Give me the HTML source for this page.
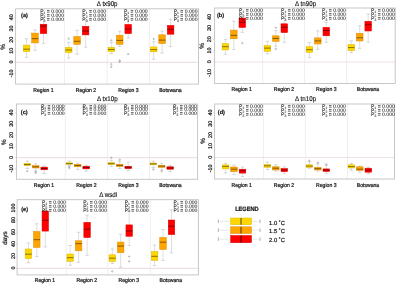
<!DOCTYPE html><html><head><meta charset="utf-8"><style>
html,body{margin:0;padding:0;background:#fff;}
body{width:396px;height:284px;overflow:hidden;}
svg{display:block;}
text{font-family:"Liberation Sans", sans-serif;fill:#1a1a1a;stroke:#1a1a1a;stroke-width:0.22px;text-rendering:geometricPrecision;}
</style></head><body>
<svg width="396" height="284" viewBox="0 0 396 284">
<rect x="0" y="0" width="396" height="284" fill="#fff"/>
<line x1="64.4" y1="8.8" x2="64.4" y2="84.1" stroke="#efefef" stroke-width="1"/>
<line x1="107.2" y1="8.8" x2="107.2" y2="84.1" stroke="#efefef" stroke-width="1"/>
<line x1="149.5" y1="8.8" x2="149.5" y2="84.1" stroke="#efefef" stroke-width="1"/>
<line x1="15.6" y1="62.4" x2="198.5" y2="62.4" stroke="#efe1df" stroke-width="1.2"/>
<rect x="15.6" y="8.8" width="182.9" height="75.3" fill="none" stroke="#c2c2c2" stroke-width="0.9"/>
<line x1="14.6" y1="73.33" x2="15.6" y2="73.33" stroke="#c2c2c2" stroke-width="0.8"/>
<line x1="14.6" y1="62.1" x2="15.6" y2="62.1" stroke="#c2c2c2" stroke-width="0.8"/>
<line x1="14.6" y1="50.87" x2="15.6" y2="50.87" stroke="#c2c2c2" stroke-width="0.8"/>
<line x1="14.6" y1="39.64" x2="15.6" y2="39.64" stroke="#c2c2c2" stroke-width="0.8"/>
<line x1="14.6" y1="28.41" x2="15.6" y2="28.41" stroke="#c2c2c2" stroke-width="0.8"/>
<line x1="14.6" y1="17.18" x2="15.6" y2="17.18" stroke="#c2c2c2" stroke-width="0.8"/>
<line x1="26.6" y1="38.8" x2="26.6" y2="45.1" stroke="#bdbdbd" stroke-width="0.5"/>
<line x1="26.6" y1="51.6" x2="26.6" y2="57.3" stroke="#bdbdbd" stroke-width="0.5"/>
<line x1="24.9" y1="38.8" x2="28.3" y2="38.8" stroke="#bdbdbd" stroke-width="0.6"/>
<line x1="24.9" y1="57.3" x2="28.3" y2="57.3" stroke="#bdbdbd" stroke-width="0.6"/>
<rect x="23.3" y="45.1" width="6.6" height="6.5" fill="#ffd700" stroke="#d9b600" stroke-width="0.5"/>
<line x1="23.3" y1="49.2" x2="29.9" y2="49.2" stroke="#000" stroke-opacity="0.6" stroke-width="0.8"/>
<line x1="35" y1="29.9" x2="35" y2="33.1" stroke="#bdbdbd" stroke-width="0.5"/>
<line x1="35" y1="42.9" x2="35" y2="50.2" stroke="#bdbdbd" stroke-width="0.5"/>
<line x1="33.3" y1="29.9" x2="36.7" y2="29.9" stroke="#bdbdbd" stroke-width="0.6"/>
<line x1="33.3" y1="50.2" x2="36.7" y2="50.2" stroke="#bdbdbd" stroke-width="0.6"/>
<rect x="31.7" y="33.1" width="6.6" height="9.8" fill="#ffa500" stroke="#d98c00" stroke-width="0.5"/>
<line x1="31.7" y1="38.7" x2="38.3" y2="38.7" stroke="#000" stroke-opacity="0.6" stroke-width="0.8"/>
<line x1="43.5" y1="17.5" x2="43.5" y2="24.2" stroke="#bdbdbd" stroke-width="0.5"/>
<line x1="43.5" y1="33.6" x2="43.5" y2="43.4" stroke="#bdbdbd" stroke-width="0.5"/>
<line x1="41.8" y1="17.5" x2="45.2" y2="17.5" stroke="#bdbdbd" stroke-width="0.6"/>
<line x1="41.8" y1="43.4" x2="45.2" y2="43.4" stroke="#bdbdbd" stroke-width="0.6"/>
<rect x="40.2" y="24.2" width="6.6" height="9.4" fill="#ff0000" stroke="#d90000" stroke-width="0.5"/>
<line x1="40.2" y1="26.2" x2="46.8" y2="26.2" stroke="#000" stroke-opacity="0.6" stroke-width="0.8"/>
<line x1="68.7" y1="42.5" x2="68.7" y2="47.4" stroke="#bdbdbd" stroke-width="0.5"/>
<line x1="68.7" y1="52.6" x2="68.7" y2="58" stroke="#bdbdbd" stroke-width="0.5"/>
<line x1="67" y1="42.5" x2="70.4" y2="42.5" stroke="#bdbdbd" stroke-width="0.6"/>
<line x1="67" y1="58" x2="70.4" y2="58" stroke="#bdbdbd" stroke-width="0.6"/>
<circle cx="68.7" cy="38.7" r="0.7" fill="none" stroke="#808080" stroke-width="0.5"/>
<rect x="65.4" y="47.4" width="6.6" height="5.2" fill="#ffd700" stroke="#d9b600" stroke-width="0.5"/>
<line x1="65.4" y1="50" x2="72" y2="50" stroke="#000" stroke-opacity="0.6" stroke-width="0.8"/>
<line x1="77.1" y1="30.3" x2="77.1" y2="36.5" stroke="#bdbdbd" stroke-width="0.5"/>
<line x1="77.1" y1="44.3" x2="77.1" y2="54.2" stroke="#bdbdbd" stroke-width="0.5"/>
<line x1="75.4" y1="30.3" x2="78.8" y2="30.3" stroke="#bdbdbd" stroke-width="0.6"/>
<line x1="75.4" y1="54.2" x2="78.8" y2="54.2" stroke="#bdbdbd" stroke-width="0.6"/>
<rect x="73.8" y="36.5" width="6.6" height="7.8" fill="#ffa500" stroke="#d98c00" stroke-width="0.5"/>
<line x1="73.8" y1="41.3" x2="80.4" y2="41.3" stroke="#000" stroke-opacity="0.6" stroke-width="0.8"/>
<line x1="85.6" y1="20" x2="85.6" y2="26.3" stroke="#bdbdbd" stroke-width="0.5"/>
<line x1="85.6" y1="34.9" x2="85.6" y2="47.2" stroke="#bdbdbd" stroke-width="0.5"/>
<line x1="83.9" y1="20" x2="87.3" y2="20" stroke="#bdbdbd" stroke-width="0.6"/>
<line x1="83.9" y1="47.2" x2="87.3" y2="47.2" stroke="#bdbdbd" stroke-width="0.6"/>
<rect x="82.3" y="26.3" width="6.6" height="8.6" fill="#ff0000" stroke="#d90000" stroke-width="0.5"/>
<line x1="82.3" y1="31" x2="88.9" y2="31" stroke="#000" stroke-opacity="0.6" stroke-width="0.8"/>
<line x1="111.3" y1="42.6" x2="111.3" y2="47.3" stroke="#bdbdbd" stroke-width="0.5"/>
<line x1="111.3" y1="51.7" x2="111.3" y2="53.7" stroke="#bdbdbd" stroke-width="0.5"/>
<line x1="109.6" y1="42.6" x2="113" y2="42.6" stroke="#bdbdbd" stroke-width="0.6"/>
<line x1="109.6" y1="53.7" x2="113" y2="53.7" stroke="#bdbdbd" stroke-width="0.6"/>
<circle cx="111.3" cy="40.4" r="0.7" fill="none" stroke="#808080" stroke-width="0.5"/>
<circle cx="111.3" cy="64.3" r="0.7" fill="none" stroke="#808080" stroke-width="0.5"/>
<circle cx="111.3" cy="67" r="0.7" fill="none" stroke="#808080" stroke-width="0.5"/>
<rect x="108" y="47.3" width="6.6" height="4.4" fill="#ffd700" stroke="#d9b600" stroke-width="0.5"/>
<line x1="108" y1="49.5" x2="114.6" y2="49.5" stroke="#000" stroke-opacity="0.6" stroke-width="0.8"/>
<line x1="119.7" y1="31.2" x2="119.7" y2="35.2" stroke="#bdbdbd" stroke-width="0.5"/>
<line x1="119.7" y1="44.3" x2="119.7" y2="46.3" stroke="#bdbdbd" stroke-width="0.5"/>
<line x1="118" y1="31.2" x2="121.4" y2="31.2" stroke="#bdbdbd" stroke-width="0.6"/>
<line x1="118" y1="46.3" x2="121.4" y2="46.3" stroke="#bdbdbd" stroke-width="0.6"/>
<circle cx="119.7" cy="60.5" r="0.7" fill="none" stroke="#808080" stroke-width="0.5"/>
<circle cx="119.7" cy="61.8" r="0.7" fill="none" stroke="#808080" stroke-width="0.5"/>
<rect x="116.4" y="35.2" width="6.6" height="9.1" fill="#ffa500" stroke="#d98c00" stroke-width="0.5"/>
<line x1="116.4" y1="40.4" x2="123" y2="40.4" stroke="#000" stroke-opacity="0.6" stroke-width="0.8"/>
<line x1="128.2" y1="19" x2="128.2" y2="24.4" stroke="#bdbdbd" stroke-width="0.5"/>
<line x1="128.2" y1="33.7" x2="128.2" y2="38.1" stroke="#bdbdbd" stroke-width="0.5"/>
<line x1="126.5" y1="19" x2="129.9" y2="19" stroke="#bdbdbd" stroke-width="0.6"/>
<line x1="126.5" y1="38.1" x2="129.9" y2="38.1" stroke="#bdbdbd" stroke-width="0.6"/>
<circle cx="128.2" cy="54.1" r="0.7" fill="none" stroke="#808080" stroke-width="0.5"/>
<rect x="124.9" y="24.4" width="6.6" height="9.3" fill="#ff0000" stroke="#d90000" stroke-width="0.5"/>
<line x1="124.9" y1="29" x2="131.5" y2="29" stroke="#000" stroke-opacity="0.6" stroke-width="0.8"/>
<line x1="153.7" y1="41.8" x2="153.7" y2="46.9" stroke="#bdbdbd" stroke-width="0.5"/>
<line x1="153.7" y1="51.9" x2="153.7" y2="59.2" stroke="#bdbdbd" stroke-width="0.5"/>
<line x1="152" y1="41.8" x2="155.4" y2="41.8" stroke="#bdbdbd" stroke-width="0.6"/>
<line x1="152" y1="59.2" x2="155.4" y2="59.2" stroke="#bdbdbd" stroke-width="0.6"/>
<circle cx="153.7" cy="39" r="0.7" fill="none" stroke="#808080" stroke-width="0.5"/>
<rect x="150.4" y="46.9" width="6.6" height="5" fill="#ffd700" stroke="#d9b600" stroke-width="0.5"/>
<line x1="150.4" y1="49.6" x2="157" y2="49.6" stroke="#000" stroke-opacity="0.6" stroke-width="0.8"/>
<line x1="162.1" y1="31.1" x2="162.1" y2="34.8" stroke="#bdbdbd" stroke-width="0.5"/>
<line x1="162.1" y1="43.6" x2="162.1" y2="53.1" stroke="#bdbdbd" stroke-width="0.5"/>
<line x1="160.4" y1="31.1" x2="163.8" y2="31.1" stroke="#bdbdbd" stroke-width="0.6"/>
<line x1="160.4" y1="53.1" x2="163.8" y2="53.1" stroke="#bdbdbd" stroke-width="0.6"/>
<rect x="158.8" y="34.8" width="6.6" height="8.8" fill="#ffa500" stroke="#d98c00" stroke-width="0.5"/>
<line x1="158.8" y1="40.1" x2="165.4" y2="40.1" stroke="#000" stroke-opacity="0.6" stroke-width="0.8"/>
<line x1="170.6" y1="19.3" x2="170.6" y2="25.4" stroke="#bdbdbd" stroke-width="0.5"/>
<line x1="170.6" y1="34.2" x2="170.6" y2="46.6" stroke="#bdbdbd" stroke-width="0.5"/>
<line x1="168.9" y1="19.3" x2="172.3" y2="19.3" stroke="#bdbdbd" stroke-width="0.6"/>
<line x1="168.9" y1="46.6" x2="172.3" y2="46.6" stroke="#bdbdbd" stroke-width="0.6"/>
<rect x="167.3" y="25.4" width="6.6" height="8.8" fill="#ff0000" stroke="#d90000" stroke-width="0.5"/>
<line x1="167.3" y1="29.3" x2="173.9" y2="29.3" stroke="#000" stroke-opacity="0.6" stroke-width="0.8"/>
<line x1="262.6" y1="8" x2="262.6" y2="83.5" stroke="#efefef" stroke-width="1"/>
<line x1="304.6" y1="8" x2="304.6" y2="83.5" stroke="#efefef" stroke-width="1"/>
<line x1="346.6" y1="8" x2="346.6" y2="83.5" stroke="#efefef" stroke-width="1"/>
<line x1="214.6" y1="62" x2="395.2" y2="62" stroke="#efe1df" stroke-width="1.2"/>
<rect x="214.6" y="8" width="180.6" height="75.5" fill="none" stroke="#c2c2c2" stroke-width="0.9"/>
<line x1="213.6" y1="72.9" x2="214.6" y2="72.9" stroke="#c2c2c2" stroke-width="0.8"/>
<line x1="213.6" y1="61.7" x2="214.6" y2="61.7" stroke="#c2c2c2" stroke-width="0.8"/>
<line x1="213.6" y1="50.5" x2="214.6" y2="50.5" stroke="#c2c2c2" stroke-width="0.8"/>
<line x1="213.6" y1="39.3" x2="214.6" y2="39.3" stroke="#c2c2c2" stroke-width="0.8"/>
<line x1="213.6" y1="28.1" x2="214.6" y2="28.1" stroke="#c2c2c2" stroke-width="0.8"/>
<line x1="213.6" y1="16.9" x2="214.6" y2="16.9" stroke="#c2c2c2" stroke-width="0.8"/>
<line x1="225.4" y1="39.3" x2="225.4" y2="43.6" stroke="#bdbdbd" stroke-width="0.5"/>
<line x1="225.4" y1="49.9" x2="225.4" y2="54.3" stroke="#bdbdbd" stroke-width="0.5"/>
<line x1="223.7" y1="39.3" x2="227.1" y2="39.3" stroke="#bdbdbd" stroke-width="0.6"/>
<line x1="223.7" y1="54.3" x2="227.1" y2="54.3" stroke="#bdbdbd" stroke-width="0.6"/>
<rect x="222.1" y="43.6" width="6.6" height="6.3" fill="#ffd700" stroke="#d9b600" stroke-width="0.5"/>
<line x1="222.1" y1="46.7" x2="228.7" y2="46.7" stroke="#000" stroke-opacity="0.6" stroke-width="0.8"/>
<line x1="233.8" y1="21.2" x2="233.8" y2="30.1" stroke="#bdbdbd" stroke-width="0.5"/>
<line x1="233.8" y1="38.8" x2="233.8" y2="49.4" stroke="#bdbdbd" stroke-width="0.5"/>
<line x1="232.1" y1="21.2" x2="235.5" y2="21.2" stroke="#bdbdbd" stroke-width="0.6"/>
<line x1="232.1" y1="49.4" x2="235.5" y2="49.4" stroke="#bdbdbd" stroke-width="0.6"/>
<rect x="230.5" y="30.1" width="6.6" height="8.7" fill="#ffa500" stroke="#d98c00" stroke-width="0.5"/>
<line x1="230.5" y1="35.3" x2="237.1" y2="35.3" stroke="#000" stroke-opacity="0.6" stroke-width="0.8"/>
<line x1="242.3" y1="15" x2="242.3" y2="18" stroke="#bdbdbd" stroke-width="0.5"/>
<line x1="242.3" y1="27.5" x2="242.3" y2="32.3" stroke="#bdbdbd" stroke-width="0.5"/>
<line x1="240.6" y1="15" x2="244" y2="15" stroke="#bdbdbd" stroke-width="0.6"/>
<line x1="240.6" y1="32.3" x2="244" y2="32.3" stroke="#bdbdbd" stroke-width="0.6"/>
<circle cx="242.3" cy="43.2" r="0.7" fill="none" stroke="#808080" stroke-width="0.5"/>
<rect x="239" y="18" width="6.6" height="9.5" fill="#ff0000" stroke="#d90000" stroke-width="0.5"/>
<line x1="239" y1="22.3" x2="245.6" y2="22.3" stroke="#000" stroke-opacity="0.6" stroke-width="0.8"/>
<line x1="267.4" y1="41.4" x2="267.4" y2="45.5" stroke="#bdbdbd" stroke-width="0.5"/>
<line x1="267.4" y1="51.4" x2="267.4" y2="53.7" stroke="#bdbdbd" stroke-width="0.5"/>
<line x1="265.7" y1="41.4" x2="269.1" y2="41.4" stroke="#bdbdbd" stroke-width="0.6"/>
<line x1="265.7" y1="53.7" x2="269.1" y2="53.7" stroke="#bdbdbd" stroke-width="0.6"/>
<rect x="264.1" y="45.5" width="6.6" height="5.9" fill="#ffd700" stroke="#d9b600" stroke-width="0.5"/>
<line x1="264.1" y1="48.1" x2="270.7" y2="48.1" stroke="#000" stroke-opacity="0.6" stroke-width="0.8"/>
<line x1="275.8" y1="30.5" x2="275.8" y2="35.8" stroke="#bdbdbd" stroke-width="0.5"/>
<line x1="275.8" y1="41.4" x2="275.8" y2="46.3" stroke="#bdbdbd" stroke-width="0.5"/>
<line x1="274.1" y1="30.5" x2="277.5" y2="30.5" stroke="#bdbdbd" stroke-width="0.6"/>
<line x1="274.1" y1="46.3" x2="277.5" y2="46.3" stroke="#bdbdbd" stroke-width="0.6"/>
<circle cx="275.8" cy="27.7" r="0.7" fill="none" stroke="#808080" stroke-width="0.5"/>
<circle cx="275.8" cy="49" r="0.7" fill="none" stroke="#808080" stroke-width="0.5"/>
<rect x="272.5" y="35.8" width="6.6" height="5.6" fill="#ffa500" stroke="#d98c00" stroke-width="0.5"/>
<line x1="272.5" y1="38.4" x2="279.1" y2="38.4" stroke="#000" stroke-opacity="0.6" stroke-width="0.8"/>
<line x1="284.3" y1="18" x2="284.3" y2="23.8" stroke="#bdbdbd" stroke-width="0.5"/>
<line x1="284.3" y1="32.6" x2="284.3" y2="42.3" stroke="#bdbdbd" stroke-width="0.5"/>
<line x1="282.6" y1="18" x2="286" y2="18" stroke="#bdbdbd" stroke-width="0.6"/>
<line x1="282.6" y1="42.3" x2="286" y2="42.3" stroke="#bdbdbd" stroke-width="0.6"/>
<rect x="281" y="23.8" width="6.6" height="8.8" fill="#ff0000" stroke="#d90000" stroke-width="0.5"/>
<line x1="281" y1="27.3" x2="287.6" y2="27.3" stroke="#000" stroke-opacity="0.6" stroke-width="0.8"/>
<line x1="309.4" y1="42.6" x2="309.4" y2="46.7" stroke="#bdbdbd" stroke-width="0.5"/>
<line x1="309.4" y1="52.3" x2="309.4" y2="57.6" stroke="#bdbdbd" stroke-width="0.5"/>
<line x1="307.7" y1="42.6" x2="311.1" y2="42.6" stroke="#bdbdbd" stroke-width="0.6"/>
<line x1="307.7" y1="57.6" x2="311.1" y2="57.6" stroke="#bdbdbd" stroke-width="0.6"/>
<rect x="306.1" y="46.7" width="6.6" height="5.6" fill="#ffd700" stroke="#d9b600" stroke-width="0.5"/>
<line x1="306.1" y1="49.7" x2="312.7" y2="49.7" stroke="#000" stroke-opacity="0.6" stroke-width="0.8"/>
<line x1="317.8" y1="30.8" x2="317.8" y2="37.9" stroke="#bdbdbd" stroke-width="0.5"/>
<line x1="317.8" y1="44" x2="317.8" y2="49.3" stroke="#bdbdbd" stroke-width="0.5"/>
<line x1="316.1" y1="30.8" x2="319.5" y2="30.8" stroke="#bdbdbd" stroke-width="0.6"/>
<line x1="316.1" y1="49.3" x2="319.5" y2="49.3" stroke="#bdbdbd" stroke-width="0.6"/>
<rect x="314.5" y="37.9" width="6.6" height="6.1" fill="#ffa500" stroke="#d98c00" stroke-width="0.5"/>
<line x1="314.5" y1="40.9" x2="321.1" y2="40.9" stroke="#000" stroke-opacity="0.6" stroke-width="0.8"/>
<line x1="326.3" y1="22.3" x2="326.3" y2="27.3" stroke="#bdbdbd" stroke-width="0.5"/>
<line x1="326.3" y1="35.8" x2="326.3" y2="42.3" stroke="#bdbdbd" stroke-width="0.5"/>
<line x1="324.6" y1="22.3" x2="328" y2="22.3" stroke="#bdbdbd" stroke-width="0.6"/>
<line x1="324.6" y1="42.3" x2="328" y2="42.3" stroke="#bdbdbd" stroke-width="0.6"/>
<rect x="323" y="27.3" width="6.6" height="8.5" fill="#ff0000" stroke="#d90000" stroke-width="0.5"/>
<line x1="323" y1="30.5" x2="329.6" y2="30.5" stroke="#000" stroke-opacity="0.6" stroke-width="0.8"/>
<line x1="351.3" y1="40.7" x2="351.3" y2="44.5" stroke="#bdbdbd" stroke-width="0.5"/>
<line x1="351.3" y1="50.7" x2="351.3" y2="52.7" stroke="#bdbdbd" stroke-width="0.5"/>
<line x1="349.6" y1="40.7" x2="353" y2="40.7" stroke="#bdbdbd" stroke-width="0.6"/>
<line x1="349.6" y1="52.7" x2="353" y2="52.7" stroke="#bdbdbd" stroke-width="0.6"/>
<rect x="348" y="44.5" width="6.6" height="6.2" fill="#ffd700" stroke="#d9b600" stroke-width="0.5"/>
<line x1="348" y1="47.6" x2="354.6" y2="47.6" stroke="#000" stroke-opacity="0.6" stroke-width="0.8"/>
<line x1="359.7" y1="25.8" x2="359.7" y2="33.3" stroke="#bdbdbd" stroke-width="0.5"/>
<line x1="359.7" y1="41" x2="359.7" y2="48.4" stroke="#bdbdbd" stroke-width="0.5"/>
<line x1="358" y1="25.8" x2="361.4" y2="25.8" stroke="#bdbdbd" stroke-width="0.6"/>
<line x1="358" y1="48.4" x2="361.4" y2="48.4" stroke="#bdbdbd" stroke-width="0.6"/>
<rect x="356.4" y="33.3" width="6.6" height="7.7" fill="#ffa500" stroke="#d98c00" stroke-width="0.5"/>
<line x1="356.4" y1="37.8" x2="363" y2="37.8" stroke="#000" stroke-opacity="0.6" stroke-width="0.8"/>
<line x1="368.2" y1="14.1" x2="368.2" y2="21.3" stroke="#bdbdbd" stroke-width="0.5"/>
<line x1="368.2" y1="31" x2="368.2" y2="42.2" stroke="#bdbdbd" stroke-width="0.5"/>
<line x1="366.5" y1="14.1" x2="369.9" y2="14.1" stroke="#bdbdbd" stroke-width="0.6"/>
<line x1="366.5" y1="42.2" x2="369.9" y2="42.2" stroke="#bdbdbd" stroke-width="0.6"/>
<rect x="364.9" y="21.3" width="6.6" height="9.7" fill="#ff0000" stroke="#d90000" stroke-width="0.5"/>
<line x1="364.9" y1="24.8" x2="371.5" y2="24.8" stroke="#000" stroke-opacity="0.6" stroke-width="0.8"/>
<line x1="65.4" y1="104" x2="65.4" y2="179.3" stroke="#efefef" stroke-width="1"/>
<line x1="107.6" y1="104" x2="107.6" y2="179.3" stroke="#efefef" stroke-width="1"/>
<line x1="149.5" y1="104" x2="149.5" y2="179.3" stroke="#efefef" stroke-width="1"/>
<line x1="16.4" y1="157.7" x2="197.6" y2="157.7" stroke="#efe1df" stroke-width="1.2"/>
<rect x="16.4" y="104" width="181.2" height="75.3" fill="none" stroke="#c2c2c2" stroke-width="0.9"/>
<line x1="15.4" y1="168.6" x2="16.4" y2="168.6" stroke="#c2c2c2" stroke-width="0.8"/>
<line x1="15.4" y1="157.4" x2="16.4" y2="157.4" stroke="#c2c2c2" stroke-width="0.8"/>
<line x1="15.4" y1="146.2" x2="16.4" y2="146.2" stroke="#c2c2c2" stroke-width="0.8"/>
<line x1="15.4" y1="135" x2="16.4" y2="135" stroke="#c2c2c2" stroke-width="0.8"/>
<line x1="15.4" y1="123.8" x2="16.4" y2="123.8" stroke="#c2c2c2" stroke-width="0.8"/>
<line x1="15.4" y1="112.6" x2="16.4" y2="112.6" stroke="#c2c2c2" stroke-width="0.8"/>
<line x1="27.3" y1="161.1" x2="27.3" y2="163.4" stroke="#bdbdbd" stroke-width="0.5"/>
<line x1="27.3" y1="165.7" x2="27.3" y2="168.5" stroke="#bdbdbd" stroke-width="0.5"/>
<line x1="25.6" y1="161.1" x2="29" y2="161.1" stroke="#bdbdbd" stroke-width="0.6"/>
<line x1="25.6" y1="168.5" x2="29" y2="168.5" stroke="#bdbdbd" stroke-width="0.6"/>
<circle cx="27.3" cy="171.2" r="0.7" fill="none" stroke="#808080" stroke-width="0.5"/>
<rect x="24" y="163.4" width="6.6" height="2.3" fill="#ffd700" stroke="#d9b600" stroke-width="0.5"/>
<line x1="24" y1="164.5" x2="30.6" y2="164.5" stroke="#000" stroke-opacity="0.6" stroke-width="0.8"/>
<line x1="35.7" y1="163.9" x2="35.7" y2="165.7" stroke="#bdbdbd" stroke-width="0.5"/>
<line x1="35.7" y1="168" x2="35.7" y2="170.7" stroke="#bdbdbd" stroke-width="0.5"/>
<line x1="34" y1="163.9" x2="37.4" y2="163.9" stroke="#bdbdbd" stroke-width="0.6"/>
<line x1="34" y1="170.7" x2="37.4" y2="170.7" stroke="#bdbdbd" stroke-width="0.6"/>
<circle cx="35.7" cy="171.9" r="0.7" fill="none" stroke="#808080" stroke-width="0.5"/>
<circle cx="35.7" cy="172.8" r="0.7" fill="none" stroke="#808080" stroke-width="0.5"/>
<rect x="32.4" y="165.7" width="6.6" height="2.3" fill="#ffa500" stroke="#d98c00" stroke-width="0.5"/>
<line x1="32.4" y1="166.8" x2="39" y2="166.8" stroke="#000" stroke-opacity="0.6" stroke-width="0.8"/>
<line x1="44.2" y1="166.2" x2="44.2" y2="167.1" stroke="#bdbdbd" stroke-width="0.5"/>
<line x1="44.2" y1="169.8" x2="44.2" y2="173.5" stroke="#bdbdbd" stroke-width="0.5"/>
<line x1="42.5" y1="166.2" x2="45.9" y2="166.2" stroke="#bdbdbd" stroke-width="0.6"/>
<line x1="42.5" y1="173.5" x2="45.9" y2="173.5" stroke="#bdbdbd" stroke-width="0.6"/>
<rect x="40.9" y="167.1" width="6.6" height="2.7" fill="#ff0000" stroke="#d90000" stroke-width="0.5"/>
<line x1="40.9" y1="168.5" x2="47.5" y2="168.5" stroke="#000" stroke-opacity="0.6" stroke-width="0.8"/>
<line x1="69.3" y1="161.1" x2="69.3" y2="162.8" stroke="#bdbdbd" stroke-width="0.5"/>
<line x1="69.3" y1="164.3" x2="69.3" y2="165.7" stroke="#bdbdbd" stroke-width="0.5"/>
<line x1="67.6" y1="161.1" x2="71" y2="161.1" stroke="#bdbdbd" stroke-width="0.6"/>
<line x1="67.6" y1="165.7" x2="71" y2="165.7" stroke="#bdbdbd" stroke-width="0.6"/>
<circle cx="69.3" cy="166.8" r="0.7" fill="none" stroke="#808080" stroke-width="0.5"/>
<circle cx="69.3" cy="168" r="0.7" fill="none" stroke="#808080" stroke-width="0.5"/>
<rect x="66" y="162.8" width="6.6" height="1.5" fill="#ffd700" stroke="#d9b600" stroke-width="0.5"/>
<line x1="66" y1="163.6" x2="72.6" y2="163.6" stroke="#000" stroke-opacity="0.6" stroke-width="0.8"/>
<line x1="77.7" y1="163.2" x2="77.7" y2="164.3" stroke="#bdbdbd" stroke-width="0.5"/>
<line x1="77.7" y1="166.8" x2="77.7" y2="169.4" stroke="#bdbdbd" stroke-width="0.5"/>
<line x1="76" y1="163.2" x2="79.4" y2="163.2" stroke="#bdbdbd" stroke-width="0.6"/>
<line x1="76" y1="169.4" x2="79.4" y2="169.4" stroke="#bdbdbd" stroke-width="0.6"/>
<rect x="74.4" y="164.3" width="6.6" height="2.5" fill="#ffa500" stroke="#d98c00" stroke-width="0.5"/>
<line x1="74.4" y1="165.5" x2="81" y2="165.5" stroke="#000" stroke-opacity="0.6" stroke-width="0.8"/>
<line x1="86.2" y1="165.3" x2="86.2" y2="166.2" stroke="#bdbdbd" stroke-width="0.5"/>
<line x1="86.2" y1="168.9" x2="86.2" y2="171.2" stroke="#bdbdbd" stroke-width="0.5"/>
<line x1="84.5" y1="165.3" x2="87.9" y2="165.3" stroke="#bdbdbd" stroke-width="0.6"/>
<line x1="84.5" y1="171.2" x2="87.9" y2="171.2" stroke="#bdbdbd" stroke-width="0.6"/>
<rect x="82.9" y="166.2" width="6.6" height="2.7" fill="#ff0000" stroke="#d90000" stroke-width="0.5"/>
<line x1="82.9" y1="167.5" x2="89.5" y2="167.5" stroke="#000" stroke-opacity="0.6" stroke-width="0.8"/>
<line x1="111.3" y1="160.2" x2="111.3" y2="162.7" stroke="#bdbdbd" stroke-width="0.5"/>
<line x1="111.3" y1="164.6" x2="111.3" y2="166.2" stroke="#bdbdbd" stroke-width="0.5"/>
<line x1="109.6" y1="160.2" x2="113" y2="160.2" stroke="#bdbdbd" stroke-width="0.6"/>
<line x1="109.6" y1="166.2" x2="113" y2="166.2" stroke="#bdbdbd" stroke-width="0.6"/>
<circle cx="111.3" cy="157.7" r="0.7" fill="none" stroke="#808080" stroke-width="0.5"/>
<rect x="108" y="162.7" width="6.6" height="1.9" fill="#ffd700" stroke="#d9b600" stroke-width="0.5"/>
<line x1="108" y1="163.7" x2="114.6" y2="163.7" stroke="#000" stroke-opacity="0.6" stroke-width="0.8"/>
<line x1="119.7" y1="161.4" x2="119.7" y2="164.2" stroke="#bdbdbd" stroke-width="0.5"/>
<line x1="119.7" y1="166.6" x2="119.7" y2="168.5" stroke="#bdbdbd" stroke-width="0.5"/>
<line x1="118" y1="161.4" x2="121.4" y2="161.4" stroke="#bdbdbd" stroke-width="0.6"/>
<line x1="118" y1="168.5" x2="121.4" y2="168.5" stroke="#bdbdbd" stroke-width="0.6"/>
<circle cx="119.7" cy="159.8" r="0.7" fill="none" stroke="#808080" stroke-width="0.5"/>
<rect x="116.4" y="164.2" width="6.6" height="2.4" fill="#ffa500" stroke="#d98c00" stroke-width="0.5"/>
<line x1="116.4" y1="165.4" x2="123" y2="165.4" stroke="#000" stroke-opacity="0.6" stroke-width="0.8"/>
<line x1="128.2" y1="162.2" x2="128.2" y2="166.2" stroke="#bdbdbd" stroke-width="0.5"/>
<line x1="128.2" y1="168.7" x2="128.2" y2="170.7" stroke="#bdbdbd" stroke-width="0.5"/>
<line x1="126.5" y1="162.2" x2="129.9" y2="162.2" stroke="#bdbdbd" stroke-width="0.6"/>
<line x1="126.5" y1="170.7" x2="129.9" y2="170.7" stroke="#bdbdbd" stroke-width="0.6"/>
<rect x="124.9" y="166.2" width="6.6" height="2.5" fill="#ff0000" stroke="#d90000" stroke-width="0.5"/>
<line x1="124.9" y1="167.4" x2="131.5" y2="167.4" stroke="#000" stroke-opacity="0.6" stroke-width="0.8"/>
<line x1="153.3" y1="161.1" x2="153.3" y2="163" stroke="#bdbdbd" stroke-width="0.5"/>
<line x1="153.3" y1="164.8" x2="153.3" y2="167.5" stroke="#bdbdbd" stroke-width="0.5"/>
<line x1="151.6" y1="161.1" x2="155" y2="161.1" stroke="#bdbdbd" stroke-width="0.6"/>
<line x1="151.6" y1="167.5" x2="155" y2="167.5" stroke="#bdbdbd" stroke-width="0.6"/>
<circle cx="153.3" cy="169.4" r="0.7" fill="none" stroke="#808080" stroke-width="0.5"/>
<rect x="150" y="163" width="6.6" height="1.8" fill="#ffd700" stroke="#d9b600" stroke-width="0.5"/>
<line x1="150" y1="163.9" x2="156.6" y2="163.9" stroke="#000" stroke-opacity="0.6" stroke-width="0.8"/>
<line x1="161.7" y1="163.2" x2="161.7" y2="165.3" stroke="#bdbdbd" stroke-width="0.5"/>
<line x1="161.7" y1="167.4" x2="161.7" y2="170" stroke="#bdbdbd" stroke-width="0.5"/>
<line x1="160" y1="163.2" x2="163.4" y2="163.2" stroke="#bdbdbd" stroke-width="0.6"/>
<line x1="160" y1="170" x2="163.4" y2="170" stroke="#bdbdbd" stroke-width="0.6"/>
<circle cx="161.7" cy="171.2" r="0.7" fill="none" stroke="#808080" stroke-width="0.5"/>
<rect x="158.4" y="165.3" width="6.6" height="2.1" fill="#ffa500" stroke="#d98c00" stroke-width="0.5"/>
<line x1="158.4" y1="166.2" x2="165" y2="166.2" stroke="#000" stroke-opacity="0.6" stroke-width="0.8"/>
<line x1="170.2" y1="165.3" x2="170.2" y2="166.8" stroke="#bdbdbd" stroke-width="0.5"/>
<line x1="170.2" y1="169.2" x2="170.2" y2="171.4" stroke="#bdbdbd" stroke-width="0.5"/>
<line x1="168.5" y1="165.3" x2="171.9" y2="165.3" stroke="#bdbdbd" stroke-width="0.6"/>
<line x1="168.5" y1="171.4" x2="171.9" y2="171.4" stroke="#bdbdbd" stroke-width="0.6"/>
<rect x="166.9" y="166.8" width="6.6" height="2.4" fill="#ff0000" stroke="#d90000" stroke-width="0.5"/>
<line x1="166.9" y1="168" x2="173.5" y2="168" stroke="#000" stroke-opacity="0.6" stroke-width="0.8"/>
<line x1="263.4" y1="104" x2="263.4" y2="179" stroke="#efefef" stroke-width="1"/>
<line x1="305.4" y1="104" x2="305.4" y2="179" stroke="#efefef" stroke-width="1"/>
<line x1="347.4" y1="104" x2="347.4" y2="179" stroke="#efefef" stroke-width="1"/>
<line x1="214.6" y1="157.5" x2="394.5" y2="157.5" stroke="#efe1df" stroke-width="1.2"/>
<rect x="214.6" y="104" width="179.9" height="75" fill="none" stroke="#c2c2c2" stroke-width="0.9"/>
<line x1="213.6" y1="168.35" x2="214.6" y2="168.35" stroke="#c2c2c2" stroke-width="0.8"/>
<line x1="213.6" y1="157.2" x2="214.6" y2="157.2" stroke="#c2c2c2" stroke-width="0.8"/>
<line x1="213.6" y1="146.05" x2="214.6" y2="146.05" stroke="#c2c2c2" stroke-width="0.8"/>
<line x1="213.6" y1="134.9" x2="214.6" y2="134.9" stroke="#c2c2c2" stroke-width="0.8"/>
<line x1="213.6" y1="123.75" x2="214.6" y2="123.75" stroke="#c2c2c2" stroke-width="0.8"/>
<line x1="213.6" y1="112.6" x2="214.6" y2="112.6" stroke="#c2c2c2" stroke-width="0.8"/>
<line x1="225.6" y1="163.3" x2="225.6" y2="164.9" stroke="#bdbdbd" stroke-width="0.5"/>
<line x1="225.6" y1="168.9" x2="225.6" y2="173.1" stroke="#bdbdbd" stroke-width="0.5"/>
<line x1="223.9" y1="163.3" x2="227.3" y2="163.3" stroke="#bdbdbd" stroke-width="0.6"/>
<line x1="223.9" y1="173.1" x2="227.3" y2="173.1" stroke="#bdbdbd" stroke-width="0.6"/>
<rect x="222.3" y="164.9" width="6.6" height="4" fill="#ffd700" stroke="#d9b600" stroke-width="0.5"/>
<line x1="222.3" y1="166.4" x2="228.9" y2="166.4" stroke="#000" stroke-opacity="0.6" stroke-width="0.8"/>
<line x1="234" y1="165.2" x2="234" y2="167" stroke="#bdbdbd" stroke-width="0.5"/>
<line x1="234" y1="171.7" x2="234" y2="174.6" stroke="#bdbdbd" stroke-width="0.5"/>
<line x1="232.3" y1="165.2" x2="235.7" y2="165.2" stroke="#bdbdbd" stroke-width="0.6"/>
<line x1="232.3" y1="174.6" x2="235.7" y2="174.6" stroke="#bdbdbd" stroke-width="0.6"/>
<rect x="230.7" y="167" width="6.6" height="4.7" fill="#ffa500" stroke="#d98c00" stroke-width="0.5"/>
<line x1="230.7" y1="169.2" x2="237.3" y2="169.2" stroke="#000" stroke-opacity="0.6" stroke-width="0.8"/>
<line x1="242.5" y1="167" x2="242.5" y2="169.2" stroke="#bdbdbd" stroke-width="0.5"/>
<line x1="242.5" y1="173.1" x2="242.5" y2="176.5" stroke="#bdbdbd" stroke-width="0.5"/>
<line x1="240.8" y1="167" x2="244.2" y2="167" stroke="#bdbdbd" stroke-width="0.6"/>
<line x1="240.8" y1="176.5" x2="244.2" y2="176.5" stroke="#bdbdbd" stroke-width="0.6"/>
<rect x="239.2" y="169.2" width="6.6" height="3.9" fill="#ff0000" stroke="#d90000" stroke-width="0.5"/>
<line x1="239.2" y1="170.8" x2="245.8" y2="170.8" stroke="#000" stroke-opacity="0.6" stroke-width="0.8"/>
<line x1="267.4" y1="162.1" x2="267.4" y2="164.6" stroke="#bdbdbd" stroke-width="0.5"/>
<line x1="267.4" y1="167.3" x2="267.4" y2="169.5" stroke="#bdbdbd" stroke-width="0.5"/>
<line x1="265.7" y1="162.1" x2="269.1" y2="162.1" stroke="#bdbdbd" stroke-width="0.6"/>
<line x1="265.7" y1="169.5" x2="269.1" y2="169.5" stroke="#bdbdbd" stroke-width="0.6"/>
<rect x="264.1" y="164.6" width="6.6" height="2.7" fill="#ffd700" stroke="#d9b600" stroke-width="0.5"/>
<line x1="264.1" y1="165.8" x2="270.7" y2="165.8" stroke="#000" stroke-opacity="0.6" stroke-width="0.8"/>
<line x1="275.8" y1="164.8" x2="275.8" y2="166.8" stroke="#bdbdbd" stroke-width="0.5"/>
<line x1="275.8" y1="170" x2="275.8" y2="171.2" stroke="#bdbdbd" stroke-width="0.5"/>
<line x1="274.1" y1="164.8" x2="277.5" y2="164.8" stroke="#bdbdbd" stroke-width="0.6"/>
<line x1="274.1" y1="171.2" x2="277.5" y2="171.2" stroke="#bdbdbd" stroke-width="0.6"/>
<rect x="272.5" y="166.8" width="6.6" height="3.2" fill="#ffa500" stroke="#d98c00" stroke-width="0.5"/>
<line x1="272.5" y1="168.2" x2="279.1" y2="168.2" stroke="#000" stroke-opacity="0.6" stroke-width="0.8"/>
<line x1="284.3" y1="166.8" x2="284.3" y2="168.5" stroke="#bdbdbd" stroke-width="0.5"/>
<line x1="284.3" y1="171.7" x2="284.3" y2="173.2" stroke="#bdbdbd" stroke-width="0.5"/>
<line x1="282.6" y1="166.8" x2="286" y2="166.8" stroke="#bdbdbd" stroke-width="0.6"/>
<line x1="282.6" y1="173.2" x2="286" y2="173.2" stroke="#bdbdbd" stroke-width="0.6"/>
<rect x="281" y="168.5" width="6.6" height="3.2" fill="#ff0000" stroke="#d90000" stroke-width="0.5"/>
<line x1="281" y1="170" x2="287.6" y2="170" stroke="#000" stroke-opacity="0.6" stroke-width="0.8"/>
<line x1="309.4" y1="161.8" x2="309.4" y2="164.8" stroke="#bdbdbd" stroke-width="0.5"/>
<line x1="309.4" y1="167.3" x2="309.4" y2="168.2" stroke="#bdbdbd" stroke-width="0.5"/>
<line x1="307.7" y1="161.8" x2="311.1" y2="161.8" stroke="#bdbdbd" stroke-width="0.6"/>
<line x1="307.7" y1="168.2" x2="311.1" y2="168.2" stroke="#bdbdbd" stroke-width="0.6"/>
<circle cx="309.4" cy="160.7" r="0.7" fill="none" stroke="#808080" stroke-width="0.5"/>
<rect x="306.1" y="164.8" width="6.6" height="2.5" fill="#ffd700" stroke="#d9b600" stroke-width="0.5"/>
<line x1="306.1" y1="166.1" x2="312.7" y2="166.1" stroke="#000" stroke-opacity="0.6" stroke-width="0.8"/>
<line x1="317.8" y1="163.8" x2="317.8" y2="167.3" stroke="#bdbdbd" stroke-width="0.5"/>
<line x1="317.8" y1="170" x2="317.8" y2="171.2" stroke="#bdbdbd" stroke-width="0.5"/>
<line x1="316.1" y1="163.8" x2="319.5" y2="163.8" stroke="#bdbdbd" stroke-width="0.6"/>
<line x1="316.1" y1="171.2" x2="319.5" y2="171.2" stroke="#bdbdbd" stroke-width="0.6"/>
<circle cx="317.8" cy="162.6" r="0.7" fill="none" stroke="#808080" stroke-width="0.5"/>
<rect x="314.5" y="167.3" width="6.6" height="2.7" fill="#ffa500" stroke="#d98c00" stroke-width="0.5"/>
<line x1="314.5" y1="168.7" x2="321.1" y2="168.7" stroke="#000" stroke-opacity="0.6" stroke-width="0.8"/>
<line x1="326.3" y1="165.3" x2="326.3" y2="168.9" stroke="#bdbdbd" stroke-width="0.5"/>
<line x1="326.3" y1="171.5" x2="326.3" y2="173.2" stroke="#bdbdbd" stroke-width="0.5"/>
<line x1="324.6" y1="165.3" x2="328" y2="165.3" stroke="#bdbdbd" stroke-width="0.6"/>
<line x1="324.6" y1="173.2" x2="328" y2="173.2" stroke="#bdbdbd" stroke-width="0.6"/>
<circle cx="326.3" cy="164.3" r="0.7" fill="none" stroke="#808080" stroke-width="0.5"/>
<rect x="323" y="168.9" width="6.6" height="2.6" fill="#ff0000" stroke="#d90000" stroke-width="0.5"/>
<line x1="323" y1="170.2" x2="329.6" y2="170.2" stroke="#000" stroke-opacity="0.6" stroke-width="0.8"/>
<line x1="351.4" y1="163.3" x2="351.4" y2="164.8" stroke="#bdbdbd" stroke-width="0.5"/>
<line x1="351.4" y1="168" x2="351.4" y2="170.2" stroke="#bdbdbd" stroke-width="0.5"/>
<line x1="349.7" y1="163.3" x2="353.1" y2="163.3" stroke="#bdbdbd" stroke-width="0.6"/>
<line x1="349.7" y1="170.2" x2="353.1" y2="170.2" stroke="#bdbdbd" stroke-width="0.6"/>
<rect x="348.1" y="164.8" width="6.6" height="3.2" fill="#ffd700" stroke="#d9b600" stroke-width="0.5"/>
<line x1="348.1" y1="166.6" x2="354.7" y2="166.6" stroke="#000" stroke-opacity="0.6" stroke-width="0.8"/>
<line x1="359.8" y1="166.1" x2="359.8" y2="166.8" stroke="#bdbdbd" stroke-width="0.5"/>
<line x1="359.8" y1="170.5" x2="359.8" y2="172.2" stroke="#bdbdbd" stroke-width="0.5"/>
<line x1="358.1" y1="166.1" x2="361.5" y2="166.1" stroke="#bdbdbd" stroke-width="0.6"/>
<line x1="358.1" y1="172.2" x2="361.5" y2="172.2" stroke="#bdbdbd" stroke-width="0.6"/>
<rect x="356.5" y="166.8" width="6.6" height="3.7" fill="#ffa500" stroke="#d98c00" stroke-width="0.5"/>
<line x1="356.5" y1="169.2" x2="363.1" y2="169.2" stroke="#000" stroke-opacity="0.6" stroke-width="0.8"/>
<line x1="368.3" y1="167.3" x2="368.3" y2="168.2" stroke="#bdbdbd" stroke-width="0.5"/>
<line x1="368.3" y1="172.2" x2="368.3" y2="173.9" stroke="#bdbdbd" stroke-width="0.5"/>
<line x1="366.6" y1="167.3" x2="370" y2="167.3" stroke="#bdbdbd" stroke-width="0.6"/>
<line x1="366.6" y1="173.9" x2="370" y2="173.9" stroke="#bdbdbd" stroke-width="0.6"/>
<rect x="365" y="168.2" width="6.6" height="4" fill="#ff0000" stroke="#d90000" stroke-width="0.5"/>
<line x1="365" y1="170.2" x2="371.6" y2="170.2" stroke="#000" stroke-opacity="0.6" stroke-width="0.8"/>
<line x1="66.3" y1="199.7" x2="66.3" y2="274.9" stroke="#efefef" stroke-width="1"/>
<line x1="107.9" y1="199.7" x2="107.9" y2="274.9" stroke="#efefef" stroke-width="1"/>
<line x1="150.3" y1="199.7" x2="150.3" y2="274.9" stroke="#efefef" stroke-width="1"/>
<line x1="17.1" y1="268.4" x2="198.4" y2="268.4" stroke="#efe1df" stroke-width="1.2"/>
<rect x="17.1" y="199.7" width="181.3" height="75.2" fill="none" stroke="#c2c2c2" stroke-width="0.9"/>
<line x1="16.1" y1="268.1" x2="17.1" y2="268.1" stroke="#c2c2c2" stroke-width="0.8"/>
<line x1="16.1" y1="256.08" x2="17.1" y2="256.08" stroke="#c2c2c2" stroke-width="0.8"/>
<line x1="16.1" y1="244.06" x2="17.1" y2="244.06" stroke="#c2c2c2" stroke-width="0.8"/>
<line x1="16.1" y1="232.04" x2="17.1" y2="232.04" stroke="#c2c2c2" stroke-width="0.8"/>
<line x1="16.1" y1="220.02" x2="17.1" y2="220.02" stroke="#c2c2c2" stroke-width="0.8"/>
<line x1="16.1" y1="208" x2="17.1" y2="208" stroke="#c2c2c2" stroke-width="0.8"/>
<line x1="28.4" y1="242.9" x2="28.4" y2="249" stroke="#bdbdbd" stroke-width="0.5"/>
<line x1="28.4" y1="258.7" x2="28.4" y2="262.7" stroke="#bdbdbd" stroke-width="0.5"/>
<line x1="26.7" y1="242.9" x2="30.1" y2="242.9" stroke="#bdbdbd" stroke-width="0.6"/>
<line x1="26.7" y1="262.7" x2="30.1" y2="262.7" stroke="#bdbdbd" stroke-width="0.6"/>
<rect x="25.15" y="249" width="6.5" height="9.7" fill="#ffd700" stroke="#d9b600" stroke-width="0.5"/>
<line x1="25.15" y1="254.2" x2="31.65" y2="254.2" stroke="#000" stroke-opacity="0.6" stroke-width="0.8"/>
<line x1="36.8" y1="223.8" x2="36.8" y2="231.5" stroke="#bdbdbd" stroke-width="0.5"/>
<line x1="36.8" y1="247.4" x2="36.8" y2="256.6" stroke="#bdbdbd" stroke-width="0.5"/>
<line x1="35.1" y1="223.8" x2="38.5" y2="223.8" stroke="#bdbdbd" stroke-width="0.6"/>
<line x1="35.1" y1="256.6" x2="38.5" y2="256.6" stroke="#bdbdbd" stroke-width="0.6"/>
<rect x="33.55" y="231.5" width="6.5" height="15.9" fill="#ffa500" stroke="#d98c00" stroke-width="0.5"/>
<line x1="33.55" y1="239.7" x2="40.05" y2="239.7" stroke="#000" stroke-opacity="0.6" stroke-width="0.8"/>
<line x1="45.3" y1="205" x2="45.3" y2="211" stroke="#bdbdbd" stroke-width="0.5"/>
<line x1="45.3" y1="231.1" x2="45.3" y2="246.9" stroke="#bdbdbd" stroke-width="0.5"/>
<line x1="43.6" y1="205" x2="47" y2="205" stroke="#bdbdbd" stroke-width="0.6"/>
<line x1="43.6" y1="246.9" x2="47" y2="246.9" stroke="#bdbdbd" stroke-width="0.6"/>
<rect x="42.05" y="211" width="6.5" height="20.1" fill="#ff0000" stroke="#d90000" stroke-width="0.5"/>
<line x1="42.05" y1="220.3" x2="48.55" y2="220.3" stroke="#000" stroke-opacity="0.6" stroke-width="0.8"/>
<line x1="70.2" y1="245.5" x2="70.2" y2="254" stroke="#bdbdbd" stroke-width="0.5"/>
<line x1="70.2" y1="261.4" x2="70.2" y2="265.3" stroke="#bdbdbd" stroke-width="0.5"/>
<line x1="68.5" y1="245.5" x2="71.9" y2="245.5" stroke="#bdbdbd" stroke-width="0.6"/>
<line x1="68.5" y1="265.3" x2="71.9" y2="265.3" stroke="#bdbdbd" stroke-width="0.6"/>
<rect x="66.95" y="254" width="6.5" height="7.4" fill="#ffd700" stroke="#d9b600" stroke-width="0.5"/>
<line x1="66.95" y1="257.7" x2="73.45" y2="257.7" stroke="#000" stroke-opacity="0.6" stroke-width="0.8"/>
<line x1="78.6" y1="232.3" x2="78.6" y2="240.8" stroke="#bdbdbd" stroke-width="0.5"/>
<line x1="78.6" y1="250.8" x2="78.6" y2="262.2" stroke="#bdbdbd" stroke-width="0.5"/>
<line x1="76.9" y1="232.3" x2="80.3" y2="232.3" stroke="#bdbdbd" stroke-width="0.6"/>
<line x1="76.9" y1="262.2" x2="80.3" y2="262.2" stroke="#bdbdbd" stroke-width="0.6"/>
<rect x="75.35" y="240.8" width="6.5" height="10" fill="#ffa500" stroke="#d98c00" stroke-width="0.5"/>
<line x1="75.35" y1="243.7" x2="81.85" y2="243.7" stroke="#000" stroke-opacity="0.6" stroke-width="0.8"/>
<line x1="87.1" y1="215.2" x2="87.1" y2="222.3" stroke="#bdbdbd" stroke-width="0.5"/>
<line x1="87.1" y1="237.6" x2="87.1" y2="255.3" stroke="#bdbdbd" stroke-width="0.5"/>
<line x1="85.4" y1="215.2" x2="88.8" y2="215.2" stroke="#bdbdbd" stroke-width="0.6"/>
<line x1="85.4" y1="255.3" x2="88.8" y2="255.3" stroke="#bdbdbd" stroke-width="0.6"/>
<rect x="83.85" y="222.3" width="6.5" height="15.3" fill="#ff0000" stroke="#d90000" stroke-width="0.5"/>
<line x1="83.85" y1="229.2" x2="90.35" y2="229.2" stroke="#000" stroke-opacity="0.6" stroke-width="0.8"/>
<line x1="112.3" y1="249" x2="112.3" y2="254.8" stroke="#bdbdbd" stroke-width="0.5"/>
<line x1="112.3" y1="261.4" x2="112.3" y2="263.5" stroke="#bdbdbd" stroke-width="0.5"/>
<line x1="110.6" y1="249" x2="114" y2="249" stroke="#bdbdbd" stroke-width="0.6"/>
<line x1="110.6" y1="263.5" x2="114" y2="263.5" stroke="#bdbdbd" stroke-width="0.6"/>
<circle cx="112.3" cy="271.4" r="0.7" fill="none" stroke="#808080" stroke-width="0.5"/>
<rect x="109.05" y="254.8" width="6.5" height="6.6" fill="#ffd700" stroke="#d9b600" stroke-width="0.5"/>
<line x1="109.05" y1="258.2" x2="115.55" y2="258.2" stroke="#000" stroke-opacity="0.6" stroke-width="0.8"/>
<line x1="120.7" y1="234.2" x2="120.7" y2="242.1" stroke="#bdbdbd" stroke-width="0.5"/>
<line x1="120.7" y1="252.7" x2="120.7" y2="267.2" stroke="#bdbdbd" stroke-width="0.5"/>
<line x1="119" y1="234.2" x2="122.4" y2="234.2" stroke="#bdbdbd" stroke-width="0.6"/>
<line x1="119" y1="267.2" x2="122.4" y2="267.2" stroke="#bdbdbd" stroke-width="0.6"/>
<rect x="117.45" y="242.1" width="6.5" height="10.6" fill="#ffa500" stroke="#d98c00" stroke-width="0.5"/>
<line x1="117.45" y1="246.1" x2="123.95" y2="246.1" stroke="#000" stroke-opacity="0.6" stroke-width="0.8"/>
<line x1="129.2" y1="211.2" x2="129.2" y2="224.9" stroke="#bdbdbd" stroke-width="0.5"/>
<line x1="129.2" y1="236.3" x2="129.2" y2="245.5" stroke="#bdbdbd" stroke-width="0.5"/>
<line x1="127.5" y1="211.2" x2="130.9" y2="211.2" stroke="#bdbdbd" stroke-width="0.6"/>
<line x1="127.5" y1="245.5" x2="130.9" y2="245.5" stroke="#bdbdbd" stroke-width="0.6"/>
<circle cx="129.2" cy="256.6" r="0.7" fill="none" stroke="#808080" stroke-width="0.5"/>
<circle cx="129.2" cy="261.4" r="0.7" fill="none" stroke="#808080" stroke-width="0.5"/>
<rect x="125.95" y="224.9" width="6.5" height="11.4" fill="#ff0000" stroke="#d90000" stroke-width="0.5"/>
<line x1="125.95" y1="231" x2="132.45" y2="231" stroke="#000" stroke-opacity="0.6" stroke-width="0.8"/>
<line x1="154.6" y1="245" x2="154.6" y2="251.5" stroke="#bdbdbd" stroke-width="0.5"/>
<line x1="154.6" y1="260.5" x2="154.6" y2="265.6" stroke="#bdbdbd" stroke-width="0.5"/>
<line x1="152.9" y1="245" x2="156.3" y2="245" stroke="#bdbdbd" stroke-width="0.6"/>
<line x1="152.9" y1="265.6" x2="156.3" y2="265.6" stroke="#bdbdbd" stroke-width="0.6"/>
<rect x="151.35" y="251.5" width="6.5" height="9" fill="#ffd700" stroke="#d9b600" stroke-width="0.5"/>
<line x1="151.35" y1="256.3" x2="157.85" y2="256.3" stroke="#000" stroke-opacity="0.6" stroke-width="0.8"/>
<line x1="163" y1="229.5" x2="163" y2="237.4" stroke="#bdbdbd" stroke-width="0.5"/>
<line x1="163" y1="249.5" x2="163" y2="260.5" stroke="#bdbdbd" stroke-width="0.5"/>
<line x1="161.3" y1="229.5" x2="164.7" y2="229.5" stroke="#bdbdbd" stroke-width="0.6"/>
<line x1="161.3" y1="260.5" x2="164.7" y2="260.5" stroke="#bdbdbd" stroke-width="0.6"/>
<rect x="159.75" y="237.4" width="6.5" height="12.1" fill="#ffa500" stroke="#d98c00" stroke-width="0.5"/>
<line x1="159.75" y1="242.2" x2="166.25" y2="242.2" stroke="#000" stroke-opacity="0.6" stroke-width="0.8"/>
<line x1="171.5" y1="209.8" x2="171.5" y2="220" stroke="#bdbdbd" stroke-width="0.5"/>
<line x1="171.5" y1="234.6" x2="171.5" y2="252.9" stroke="#bdbdbd" stroke-width="0.5"/>
<line x1="169.8" y1="209.8" x2="173.2" y2="209.8" stroke="#bdbdbd" stroke-width="0.6"/>
<line x1="169.8" y1="252.9" x2="173.2" y2="252.9" stroke="#bdbdbd" stroke-width="0.6"/>
<rect x="168.25" y="220" width="6.5" height="14.6" fill="#ff0000" stroke="#d90000" stroke-width="0.5"/>
<line x1="168.25" y1="226.2" x2="174.75" y2="226.2" stroke="#000" stroke-opacity="0.6" stroke-width="0.8"/>
<line x1="218.4" y1="221.35" x2="230.7" y2="221.35" stroke="#aaa" stroke-width="0.5" stroke-dasharray="0.7,0.6"/>
<line x1="251.5" y1="221.35" x2="260.1" y2="221.35" stroke="#aaa" stroke-width="0.5" stroke-dasharray="0.7,0.6"/>
<line x1="218.4" y1="219.55" x2="218.4" y2="223.15" stroke="#888" stroke-width="0.6"/>
<line x1="260.1" y1="219.55" x2="260.1" y2="223.15" stroke="#888" stroke-width="0.6"/>
<rect x="230.7" y="218" width="20.8" height="6.7" fill="#ffd700" stroke="#d9b600" stroke-width="0.5"/>
<line x1="241" y1="218" x2="241" y2="224.7" stroke="#000" stroke-width="0.7"/>
<line x1="218.4" y1="230.15" x2="230.7" y2="230.15" stroke="#aaa" stroke-width="0.5" stroke-dasharray="0.7,0.6"/>
<line x1="251.5" y1="230.15" x2="260.1" y2="230.15" stroke="#aaa" stroke-width="0.5" stroke-dasharray="0.7,0.6"/>
<line x1="218.4" y1="228.35" x2="218.4" y2="231.95" stroke="#888" stroke-width="0.6"/>
<line x1="260.1" y1="228.35" x2="260.1" y2="231.95" stroke="#888" stroke-width="0.6"/>
<rect x="230.7" y="226.8" width="20.8" height="6.7" fill="#ffa500" stroke="#d98c00" stroke-width="0.5"/>
<line x1="241" y1="226.8" x2="241" y2="233.5" stroke="#000" stroke-width="0.7"/>
<line x1="218.4" y1="239.1" x2="230.7" y2="239.1" stroke="#aaa" stroke-width="0.5" stroke-dasharray="0.7,0.6"/>
<line x1="251.5" y1="239.1" x2="260.1" y2="239.1" stroke="#aaa" stroke-width="0.5" stroke-dasharray="0.7,0.6"/>
<line x1="218.4" y1="237.3" x2="218.4" y2="240.9" stroke="#888" stroke-width="0.6"/>
<line x1="260.1" y1="237.3" x2="260.1" y2="240.9" stroke="#888" stroke-width="0.6"/>
<rect x="230.7" y="235.5" width="20.8" height="7.2" fill="#ff0000" stroke="#d90000" stroke-width="0.5"/>
<line x1="241" y1="235.5" x2="241" y2="242.7" stroke="#000" stroke-width="0.7"/>
<g style="filter:grayscale(1)">
<text transform="translate(12.6,73.33) rotate(-90)" font-size="5.4" text-anchor="middle">-10</text>
<text transform="translate(12.6,62.1) rotate(-90)" font-size="5.4" text-anchor="middle">0</text>
<text transform="translate(12.6,50.87) rotate(-90)" font-size="5.4" text-anchor="middle">10</text>
<text transform="translate(12.6,39.64) rotate(-90)" font-size="5.4" text-anchor="middle">20</text>
<text transform="translate(12.6,28.41) rotate(-90)" font-size="5.4" text-anchor="middle">30</text>
<text transform="translate(12.6,17.18) rotate(-90)" font-size="5.4" text-anchor="middle">40</text>
<text transform="translate(4.9,46.9) rotate(-90)" font-size="6.3" text-anchor="middle">%</text>
<text x="40.2" y="12.6" font-size="5.1" style="stroke-width:0.05px">P<tspan font-size="3.3" dy="0.9">1</tspan><tspan dy="-0.9"> = 0.000</tspan></text>
<text x="40.2" y="16.6" font-size="5.1" style="stroke-width:0.05px">P<tspan font-size="3.3" dy="0.9">2</tspan><tspan dy="-0.9"> = 0.000</tspan></text>
<text x="40.2" y="20.6" font-size="5.1" style="stroke-width:0.05px">P<tspan font-size="3.3" dy="0.9">3</tspan><tspan dy="-0.9"> = 0.000</tspan></text>
<text x="82.3" y="12.6" font-size="5.1" style="stroke-width:0.05px">P<tspan font-size="3.3" dy="0.9">1</tspan><tspan dy="-0.9"> = 0.000</tspan></text>
<text x="82.3" y="16.6" font-size="5.1" style="stroke-width:0.05px">P<tspan font-size="3.3" dy="0.9">2</tspan><tspan dy="-0.9"> = 0.000</tspan></text>
<text x="82.3" y="20.6" font-size="5.1" style="stroke-width:0.05px">P<tspan font-size="3.3" dy="0.9">3</tspan><tspan dy="-0.9"> = 0.000</tspan></text>
<text x="123.9" y="12.6" font-size="5.1" style="stroke-width:0.05px">P<tspan font-size="3.3" dy="0.9">1</tspan><tspan dy="-0.9"> = 0.000</tspan></text>
<text x="123.9" y="16.6" font-size="5.1" style="stroke-width:0.05px">P<tspan font-size="3.3" dy="0.9">2</tspan><tspan dy="-0.9"> = 0.000</tspan></text>
<text x="123.9" y="20.6" font-size="5.1" style="stroke-width:0.05px">P<tspan font-size="3.3" dy="0.9">3</tspan><tspan dy="-0.9"> = 0.000</tspan></text>
<text x="173.7" y="12.6" font-size="5.1" style="stroke-width:0.05px">P<tspan font-size="3.3" dy="0.9">1</tspan><tspan dy="-0.9"> = 0.000</tspan></text>
<text x="173.7" y="16.6" font-size="5.1" style="stroke-width:0.05px">P<tspan font-size="3.3" dy="0.9">2</tspan><tspan dy="-0.9"> = 0.000</tspan></text>
<text x="173.7" y="20.6" font-size="5.1" style="stroke-width:0.05px">P<tspan font-size="3.3" dy="0.9">3</tspan><tspan dy="-0.9"> = 0.000</tspan></text>
<text x="21.1" y="17" font-size="5.6" font-weight="bold">(a)</text>
<text transform="translate(107.2,6.3) scale(1,1.12)" font-size="6.2" text-anchor="middle" style="stroke-width:0.15px">Δ tx90p</text>
<text transform="translate(43.5,91.5) scale(1,1.1)" font-size="5.1" text-anchor="middle">Region 1</text>
<text transform="translate(86,91.5) scale(1,1.1)" font-size="5.1" text-anchor="middle">Region 2</text>
<text transform="translate(128.4,91.5) scale(1,1.1)" font-size="5.1" text-anchor="middle">Region 3</text>
<text transform="translate(170.4,91.5) scale(1,1.1)" font-size="5.1" text-anchor="middle">Botswana</text>
<text transform="translate(211,72.9) rotate(-90)" font-size="5.4" text-anchor="middle">-10</text>
<text transform="translate(211,61.7) rotate(-90)" font-size="5.4" text-anchor="middle">0</text>
<text transform="translate(211,50.5) rotate(-90)" font-size="5.4" text-anchor="middle">10</text>
<text transform="translate(211,39.3) rotate(-90)" font-size="5.4" text-anchor="middle">20</text>
<text transform="translate(211,28.1) rotate(-90)" font-size="5.4" text-anchor="middle">30</text>
<text transform="translate(211,16.9) rotate(-90)" font-size="5.4" text-anchor="middle">40</text>
<text transform="translate(203.9,45.9) rotate(-90)" font-size="6.3" text-anchor="middle">%</text>
<text x="239" y="12.2" font-size="5.1" style="stroke-width:0.05px">P<tspan font-size="3.3" dy="0.9">1</tspan><tspan dy="-0.9"> = 0.000</tspan></text>
<text x="239" y="16.15" font-size="5.1" style="stroke-width:0.05px">P<tspan font-size="3.3" dy="0.9">2</tspan><tspan dy="-0.9"> = 0.000</tspan></text>
<text x="239" y="20.1" font-size="5.1" style="stroke-width:0.05px">P<tspan font-size="3.3" dy="0.9">3</tspan><tspan dy="-0.9"> = 0.000</tspan></text>
<text x="281" y="12.2" font-size="5.1" style="stroke-width:0.05px">P<tspan font-size="3.3" dy="0.9">1</tspan><tspan dy="-0.9"> = 0.000</tspan></text>
<text x="281" y="16.15" font-size="5.1" style="stroke-width:0.05px">P<tspan font-size="3.3" dy="0.9">2</tspan><tspan dy="-0.9"> = 0.000</tspan></text>
<text x="281" y="20.1" font-size="5.1" style="stroke-width:0.05px">P<tspan font-size="3.3" dy="0.9">3</tspan><tspan dy="-0.9"> = 0.000</tspan></text>
<text x="322.1" y="12.2" font-size="5.1" style="stroke-width:0.05px">P<tspan font-size="3.3" dy="0.9">1</tspan><tspan dy="-0.9"> = 0.000</tspan></text>
<text x="322.1" y="16.15" font-size="5.1" style="stroke-width:0.05px">P<tspan font-size="3.3" dy="0.9">2</tspan><tspan dy="-0.9"> = 0.000</tspan></text>
<text x="322.1" y="20.1" font-size="5.1" style="stroke-width:0.05px">P<tspan font-size="3.3" dy="0.9">3</tspan><tspan dy="-0.9"> = 0.000</tspan></text>
<text x="371" y="12.2" font-size="5.1" style="stroke-width:0.05px">P<tspan font-size="3.3" dy="0.9">1</tspan><tspan dy="-0.9"> = 0.000</tspan></text>
<text x="371" y="16.15" font-size="5.1" style="stroke-width:0.05px">P<tspan font-size="3.3" dy="0.9">2</tspan><tspan dy="-0.9"> = 0.000</tspan></text>
<text x="371" y="20.1" font-size="5.1" style="stroke-width:0.05px">P<tspan font-size="3.3" dy="0.9">3</tspan><tspan dy="-0.9"> = 0.000</tspan></text>
<text x="216.9" y="16.6" font-size="5.6" font-weight="bold">(b)</text>
<text transform="translate(305.6,6.3) scale(1,1.12)" font-size="6.2" text-anchor="middle" style="stroke-width:0.15px">Δ tn90p</text>
<text transform="translate(241.7,91.4) scale(1,1.1)" font-size="5.1" text-anchor="middle">Region 1</text>
<text transform="translate(284,91.4) scale(1,1.1)" font-size="5.1" text-anchor="middle">Region 2</text>
<text transform="translate(326.3,91.4) scale(1,1.1)" font-size="5.1" text-anchor="middle">Region 3</text>
<text transform="translate(368,91.4) scale(1,1.1)" font-size="5.1" text-anchor="middle">Botswana</text>
<text transform="translate(13.2,168.6) rotate(-90)" font-size="5.4" text-anchor="middle">-10</text>
<text transform="translate(13.2,157.4) rotate(-90)" font-size="5.4" text-anchor="middle">0</text>
<text transform="translate(13.2,146.2) rotate(-90)" font-size="5.4" text-anchor="middle">10</text>
<text transform="translate(13.2,135) rotate(-90)" font-size="5.4" text-anchor="middle">20</text>
<text transform="translate(13.2,123.8) rotate(-90)" font-size="5.4" text-anchor="middle">30</text>
<text transform="translate(13.2,112.6) rotate(-90)" font-size="5.4" text-anchor="middle">40</text>
<text transform="translate(6.2,142.3) rotate(-90)" font-size="6.3" text-anchor="middle">%</text>
<text x="40.9" y="107.8" font-size="5.1" style="stroke-width:0.05px">P<tspan font-size="3.3" dy="0.9">1</tspan><tspan dy="-0.9"> = 0.000</tspan></text>
<text x="40.9" y="111.3" font-size="5.1" style="stroke-width:0.05px">P<tspan font-size="3.3" dy="0.9">2</tspan><tspan dy="-0.9"> = 0.000</tspan></text>
<text x="40.9" y="114.8" font-size="5.1" style="stroke-width:0.05px">P<tspan font-size="3.3" dy="0.9">3</tspan><tspan dy="-0.9"> = 0.000</tspan></text>
<text x="82.5" y="107.8" font-size="5.1" style="stroke-width:0.05px">P<tspan font-size="3.3" dy="0.9">1</tspan><tspan dy="-0.9"> = 0.000</tspan></text>
<text x="82.5" y="111.3" font-size="5.1" style="stroke-width:0.05px">P<tspan font-size="3.3" dy="0.9">2</tspan><tspan dy="-0.9"> = 0.000</tspan></text>
<text x="82.5" y="114.8" font-size="5.1" style="stroke-width:0.05px">P<tspan font-size="3.3" dy="0.9">3</tspan><tspan dy="-0.9"> = 0.000</tspan></text>
<text x="124" y="107.8" font-size="5.1" style="stroke-width:0.05px">P<tspan font-size="3.3" dy="0.9">1</tspan><tspan dy="-0.9"> = 0.000</tspan></text>
<text x="124" y="111.3" font-size="5.1" style="stroke-width:0.05px">P<tspan font-size="3.3" dy="0.9">2</tspan><tspan dy="-0.9"> = 0.000</tspan></text>
<text x="124" y="114.8" font-size="5.1" style="stroke-width:0.05px">P<tspan font-size="3.3" dy="0.9">3</tspan><tspan dy="-0.9"> = 0.000</tspan></text>
<text x="173.1" y="107.8" font-size="5.1" style="stroke-width:0.05px">P<tspan font-size="3.3" dy="0.9">1</tspan><tspan dy="-0.9"> = 0.000</tspan></text>
<text x="173.1" y="111.3" font-size="5.1" style="stroke-width:0.05px">P<tspan font-size="3.3" dy="0.9">2</tspan><tspan dy="-0.9"> = 0.000</tspan></text>
<text x="173.1" y="114.8" font-size="5.1" style="stroke-width:0.05px">P<tspan font-size="3.3" dy="0.9">3</tspan><tspan dy="-0.9"> = 0.000</tspan></text>
<text x="20.8" y="114" font-size="5.6" font-weight="bold">(c)</text>
<text transform="translate(107.3,101.3) scale(1,1.12)" font-size="6.2" text-anchor="middle" style="stroke-width:0.15px">Δ tx10p</text>
<text transform="translate(44,186.5) scale(1,1.1)" font-size="5.1" text-anchor="middle">Region 1</text>
<text transform="translate(86.5,186.5) scale(1,1.1)" font-size="5.1" text-anchor="middle">Region 2</text>
<text transform="translate(128.4,186.5) scale(1,1.1)" font-size="5.1" text-anchor="middle">Region 3</text>
<text transform="translate(170.4,186.5) scale(1,1.1)" font-size="5.1" text-anchor="middle">Botswana</text>
<text transform="translate(211.9,168.35) rotate(-90)" font-size="5.4" text-anchor="middle">-10</text>
<text transform="translate(211.9,157.2) rotate(-90)" font-size="5.4" text-anchor="middle">0</text>
<text transform="translate(211.9,146.05) rotate(-90)" font-size="5.4" text-anchor="middle">10</text>
<text transform="translate(211.9,134.9) rotate(-90)" font-size="5.4" text-anchor="middle">20</text>
<text transform="translate(211.9,123.75) rotate(-90)" font-size="5.4" text-anchor="middle">30</text>
<text transform="translate(211.9,112.6) rotate(-90)" font-size="5.4" text-anchor="middle">40</text>
<text transform="translate(204.9,141) rotate(-90)" font-size="6.3" text-anchor="middle">%</text>
<text x="239" y="108.4" font-size="5.1" style="stroke-width:0.05px">P<tspan font-size="3.3" dy="0.9">1</tspan><tspan dy="-0.9"> = 0.000</tspan></text>
<text x="239" y="112.05" font-size="5.1" style="stroke-width:0.05px">P<tspan font-size="3.3" dy="0.9">2</tspan><tspan dy="-0.9"> = 0.000</tspan></text>
<text x="239" y="115.7" font-size="5.1" style="stroke-width:0.05px">P<tspan font-size="3.3" dy="0.9">3</tspan><tspan dy="-0.9"> = 0.000</tspan></text>
<text x="281" y="108.4" font-size="5.1" style="stroke-width:0.05px">P<tspan font-size="3.3" dy="0.9">1</tspan><tspan dy="-0.9"> = 0.000</tspan></text>
<text x="281" y="112.05" font-size="5.1" style="stroke-width:0.05px">P<tspan font-size="3.3" dy="0.9">2</tspan><tspan dy="-0.9"> = 0.000</tspan></text>
<text x="281" y="115.7" font-size="5.1" style="stroke-width:0.05px">P<tspan font-size="3.3" dy="0.9">3</tspan><tspan dy="-0.9"> = 0.000</tspan></text>
<text x="322" y="108.4" font-size="5.1" style="stroke-width:0.05px">P<tspan font-size="3.3" dy="0.9">1</tspan><tspan dy="-0.9"> = 0.000</tspan></text>
<text x="322" y="112.05" font-size="5.1" style="stroke-width:0.05px">P<tspan font-size="3.3" dy="0.9">2</tspan><tspan dy="-0.9"> = 0.000</tspan></text>
<text x="322" y="115.7" font-size="5.1" style="stroke-width:0.05px">P<tspan font-size="3.3" dy="0.9">3</tspan><tspan dy="-0.9"> = 0.000</tspan></text>
<text x="371" y="108.4" font-size="5.1" style="stroke-width:0.05px">P<tspan font-size="3.3" dy="0.9">1</tspan><tspan dy="-0.9"> = 0.000</tspan></text>
<text x="371" y="112.05" font-size="5.1" style="stroke-width:0.05px">P<tspan font-size="3.3" dy="0.9">2</tspan><tspan dy="-0.9"> = 0.000</tspan></text>
<text x="371" y="115.7" font-size="5.1" style="stroke-width:0.05px">P<tspan font-size="3.3" dy="0.9">3</tspan><tspan dy="-0.9"> = 0.000</tspan></text>
<text x="217.8" y="114" font-size="5.6" font-weight="bold">(d)</text>
<text transform="translate(305.6,101.3) scale(1,1.12)" font-size="6.2" text-anchor="middle" style="stroke-width:0.15px">Δ tn10p</text>
<text transform="translate(241.7,186.5) scale(1,1.1)" font-size="5.1" text-anchor="middle">Region 1</text>
<text transform="translate(284,186.5) scale(1,1.1)" font-size="5.1" text-anchor="middle">Region 2</text>
<text transform="translate(326.3,186.5) scale(1,1.1)" font-size="5.1" text-anchor="middle">Region 3</text>
<text transform="translate(368,186.5) scale(1,1.1)" font-size="5.1" text-anchor="middle">Botswana</text>
<text transform="translate(14.5,268.1) rotate(-90)" font-size="5.4" text-anchor="middle">0</text>
<text transform="translate(14.5,256.08) rotate(-90)" font-size="5.4" text-anchor="middle">20</text>
<text transform="translate(14.5,244.06) rotate(-90)" font-size="5.4" text-anchor="middle">40</text>
<text transform="translate(14.5,232.04) rotate(-90)" font-size="5.4" text-anchor="middle">60</text>
<text transform="translate(14.5,220.02) rotate(-90)" font-size="5.4" text-anchor="middle">80</text>
<text transform="translate(14.5,208) rotate(-90)" font-size="5.4" text-anchor="middle">100</text>
<text transform="translate(7.3,238) rotate(-90)" font-size="6.3" text-anchor="middle">days</text>
<text x="42.1" y="203.7" font-size="5.1" style="stroke-width:0.05px">P<tspan font-size="3.3" dy="0.9">1</tspan><tspan dy="-0.9"> = 0.000</tspan></text>
<text x="42.1" y="207.6" font-size="5.1" style="stroke-width:0.05px">P<tspan font-size="3.3" dy="0.9">2</tspan><tspan dy="-0.9"> = 0.000</tspan></text>
<text x="42.1" y="211.5" font-size="5.1" style="stroke-width:0.05px">P<tspan font-size="3.3" dy="0.9">3</tspan><tspan dy="-0.9"> = 0.000</tspan></text>
<text x="83.2" y="203.7" font-size="5.1" style="stroke-width:0.05px">P<tspan font-size="3.3" dy="0.9">1</tspan><tspan dy="-0.9"> = 0.000</tspan></text>
<text x="83.2" y="207.6" font-size="5.1" style="stroke-width:0.05px">P<tspan font-size="3.3" dy="0.9">2</tspan><tspan dy="-0.9"> = 0.000</tspan></text>
<text x="83.2" y="211.5" font-size="5.1" style="stroke-width:0.05px">P<tspan font-size="3.3" dy="0.9">3</tspan><tspan dy="-0.9"> = 0.000</tspan></text>
<text x="124.7" y="203.7" font-size="5.1" style="stroke-width:0.05px">P<tspan font-size="3.3" dy="0.9">1</tspan><tspan dy="-0.9"> = 0.000</tspan></text>
<text x="124.7" y="207.6" font-size="5.1" style="stroke-width:0.05px">P<tspan font-size="3.3" dy="0.9">2</tspan><tspan dy="-0.9"> = 0.000</tspan></text>
<text x="124.7" y="211.5" font-size="5.1" style="stroke-width:0.05px">P<tspan font-size="3.3" dy="0.9">3</tspan><tspan dy="-0.9"> = 0.000</tspan></text>
<text x="173.6" y="203.7" font-size="5.1" style="stroke-width:0.05px">P<tspan font-size="3.3" dy="0.9">1</tspan><tspan dy="-0.9"> = 0.000</tspan></text>
<text x="173.6" y="207.6" font-size="5.1" style="stroke-width:0.05px">P<tspan font-size="3.3" dy="0.9">2</tspan><tspan dy="-0.9"> = 0.000</tspan></text>
<text x="173.6" y="211.5" font-size="5.1" style="stroke-width:0.05px">P<tspan font-size="3.3" dy="0.9">3</tspan><tspan dy="-0.9"> = 0.000</tspan></text>
<text x="21.2" y="211" font-size="5.6" font-weight="bold">(e)</text>
<text transform="translate(108.1,197.3) scale(1,1.12)" font-size="6.2" text-anchor="middle" style="stroke-width:0.15px">Δ wsdi</text>
<text transform="translate(44.9,282.4) scale(1,1.1)" font-size="5.1" text-anchor="middle">Region 1</text>
<text transform="translate(86.8,282.4) scale(1,1.1)" font-size="5.1" text-anchor="middle">Region 2</text>
<text transform="translate(128.8,282.4) scale(1,1.1)" font-size="5.1" text-anchor="middle">Region 3</text>
<text transform="translate(170.8,282.4) scale(1,1.1)" font-size="5.1" text-anchor="middle">Botswana</text>
<text transform="translate(235.2,211.1) scale(1,1.12)" font-size="5.6" font-weight="bold">LEGEND</text>
<text x="269.1" y="224.8" font-size="5.8">1.0 ˚C</text>
<text x="269.1" y="233.2" font-size="5.8">1.5 ˚C</text>
<text x="269.1" y="241.7" font-size="5.8">2.0 ˚C</text>
</g>
</svg></body></html>
